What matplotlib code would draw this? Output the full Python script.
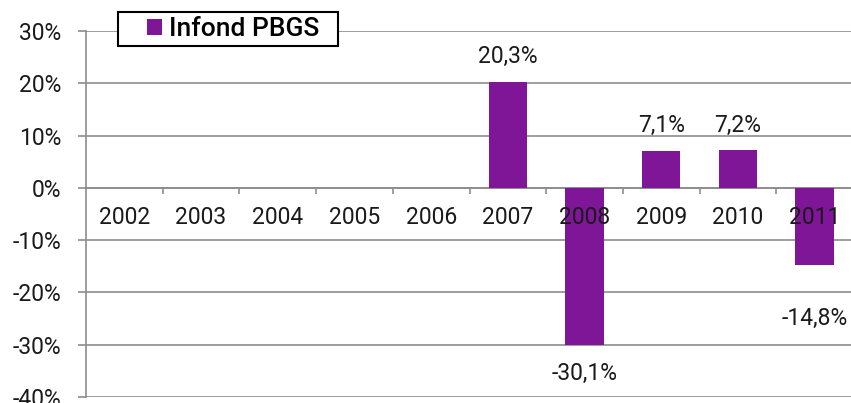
import matplotlib.pyplot as plt
from matplotlib.patches import Rectangle
from matplotlib.ticker import FuncFormatter, MultipleLocator

plt.rcParams['font.family'] = ['Roboto', 'DejaVu Sans']

# Data
years = ['2002', '2003', '2004', '2005', '2006', '2007', '2008', '2009', '2010', '2011']
returns = [0, 0, 0, 0, 0, 20.3, -30.1, 7.1, 7.2, -14.8]
value_labels = ['', '', '', '', '', '20,3%', '-30,1%', '7,1%', '7,2%', '-14,8%']
# offset of each value label from the bar end, in points
label_offsets = [0, 0, 0, 0, 0, 18, -20, 18, 18, -38]

bar_color = '#7F1597'
grid_color = '#8C8C8C'

fig = plt.figure(figsize=(8.51, 4.03), dpi=100)
ax = fig.add_axes([86 / 851, 6 / 403, 767 / 851, 366 / 403])

x = list(range(len(years)))
bars = ax.bar(x, returns, width=0.5, color=bar_color, label='Infond PBGS', zorder=2)

ax.set_xlim(-0.5, len(years) - 0.5)
ax.set_ylim(-40, 30)
ax.yaxis.set_major_locator(MultipleLocator(10))
ax.yaxis.set_major_formatter(FuncFormatter(lambda v, p: '%d%%' % v))
ax.yaxis.grid(True, color=grid_color, linewidth=1.2)
ax.set_axisbelow(True)

for s in ['top', 'right']:
    ax.spines[s].set_visible(False)
ax.spines['left'].set_color(grid_color)
ax.spines['left'].set_linewidth(1.2)
ax.spines['bottom'].set_position(('data', 0))
ax.spines['bottom'].set_color(grid_color)
ax.spines['bottom'].set_linewidth(1.2)
ax.spines['bottom'].set_zorder(1)

ax.tick_params(axis='y', length=6, width=1.2, color=grid_color, pad=12,
               labelsize=16.5, labelcolor='#1a1a1a')
# tick marks on the zero line sit between categories
ax.set_xticks([i + 0.5 for i in x[:-1]], minor=True)
ax.set_xticks([])
ax.tick_params(axis='x', which='minor', length=4, width=1.2, color=grid_color, direction='out')

for i, yr in enumerate(years):
    ax.text(i, -5.7, yr, ha='center', va='center', fontsize=16.5, color='#1a1a1a', zorder=5)

for bar, lab, off, val in zip(bars, value_labels, label_offsets, returns):
    if not lab:
        continue
    ax.annotate(lab, (bar.get_x() + bar.get_width() / 2, val), xytext=(0, off),
                textcoords='offset points', ha='center', va='center',
                fontsize=16.5, color='#1a1a1a')

# legend without its own frame, boxed by hand so the padding can differ per side
leg = ax.legend(loc='upper left', bbox_to_anchor=(147 / 851, 1 - 17 / 403),
                bbox_transform=fig.transFigure, borderaxespad=0, borderpad=0,
                frameon=False, prop={'size': 19, 'weight': 'medium'},
                handlelength=0.57, handleheight=0.57, handletextpad=0.25)
leg.set_zorder(10)

fig.canvas.draw()
bb = leg.get_window_extent()
box = Rectangle((bb.x0 - 29, bb.y0 - 5), bb.width + 48, bb.height + 10,
                transform=None, facecolor='white', edgecolor='black',
                linewidth=1.5, zorder=9, clip_on=False)
ax.add_artist(box)

fig.savefig('out.png', dpi=100)
